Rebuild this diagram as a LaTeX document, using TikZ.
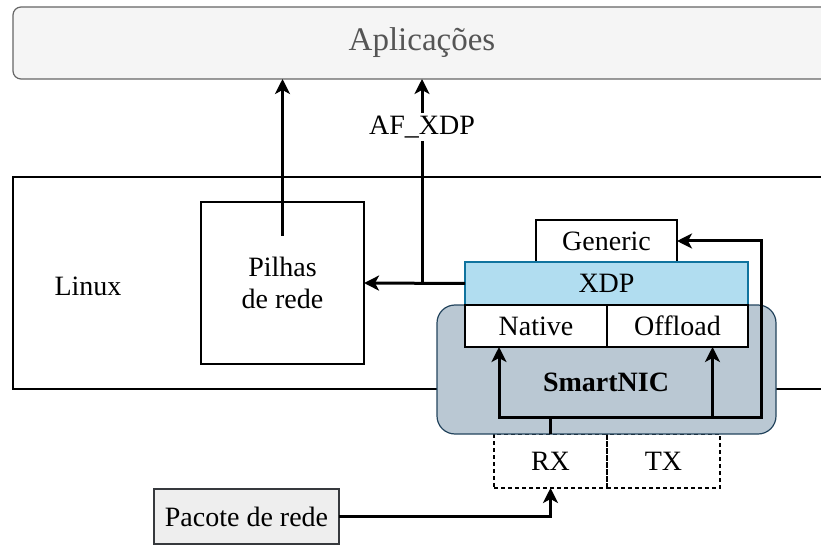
\documentclass[tikz,border=0pt]{standalone}
\usepackage{fontspec}
\setmainfont{Liberation Serif}
\newfontfamily\timesface{Liberation Serif}
\usetikzlibrary{arrows.meta}
\definecolor{appfill}{HTML}{F5F5F5}
\definecolor{appline}{HTML}{666666}
\definecolor{apptext}{HTML}{555555}
\definecolor{xdpfill}{HTML}{B1DDF0}
\definecolor{xdpline}{HTML}{10739E}
\definecolor{nicfill}{HTML}{BAC8D3}
\definecolor{nicline}{HTML}{23445D}
\definecolor{pktfill}{HTML}{EEEEEE}
\definecolor{pktline}{HTML}{36393D}
\begin{document}
\begin{tikzpicture}[x=1pt,y=-1pt,
  every node/.style={inner sep=0pt,outer sep=0pt,font=\timesface\fontsize{28}{32}\selectfont,align=center},
  box/.style={draw,line width=1.2pt,fill=white},
  ringbox/.style={draw,line width=1.2pt,dashed,dash pattern=on 4pt off 3pt},
  arr/.style={line width=3pt,-{Stealth[length=15pt,width=15pt,inset=4pt]}},
  link/.style={line width=3pt}]
\useasboundingbox (0,0) rectangle (821,545);
\node[draw=appline,fill=appfill,line width=1.2pt,rounded corners=8pt,minimum width=818pt,minimum height=72pt,
  text=apptext,font=\timesface\fontsize{33}{36}\selectfont] (apl) at (422,43) {Aplicações};
\node[draw,line width=1.2pt,minimum width=818pt,minimum height=212pt] (linux) at (422,283) {};
\node (linuxtxt) at (88,286) {Linux};
\node[box,minimum width=163pt,minimum height=162pt] (pilhas) at (282.5,283) {Pilhas\\de rede};
\node[box,minimum width=141pt,minimum height=42pt] (generic) at (606.5,241) {Generic};
\node[ringbox,minimum width=113pt,minimum height=54pt] (rx) at (550.5,461) {RX};
\node[ringbox,minimum width=113pt,minimum height=54pt] (tx) at (663.5,461) {TX};
\node[draw=nicline,fill=nicfill,line width=1.2pt,rounded corners=18pt,minimum width=339pt,minimum height=129pt] (nic) at (606.5,369.5) {};
\node (nictxt) at (606,382) {\textbf{SmartNIC}};
\node[draw=xdpline,fill=xdpfill,line width=1.2pt,minimum width=283pt,minimum height=43pt] (xdp) at (606.5,283.5) {XDP};
\node[box,minimum width=142pt,minimum height=42pt] (native) at (536,326) {Native};
\node[box,minimum width=141pt,minimum height=42pt] (offload) at (677.5,326) {Offload};
\node[draw=pktline,fill=pktfill,line width=1.2pt,minimum width=185pt,minimum height=55pt] (pacote) at (246.5,516.5) {Pacote de rede};
% caminhos
\coordinate (pilhastop) at (282.5,236);
\coordinate (afx) at (422,283);
\coordinate (split) at (550.5,417);
\draw[arr] (pilhastop) -- (pilhastop |- apl.south);
\draw[arr] (xdp.west) -- (pilhas.east);
\draw[arr] (afx) -- node[pos=0.765,fill=white,inner sep=3pt]{AF\_XDP} (afx |- apl.south);
\draw[arr] (pacote.east) -| (rx.south);
\draw[link] (rx.north) -- (split);
\draw[arr] (split) -| ([xshift=-37pt]native.south);
\draw[arr] (split) -| ([xshift=35pt]offload.south);
\draw[arr] (split) -| ([xshift=84pt]generic.east) -- (generic.east);
\end{tikzpicture}
\end{document}
